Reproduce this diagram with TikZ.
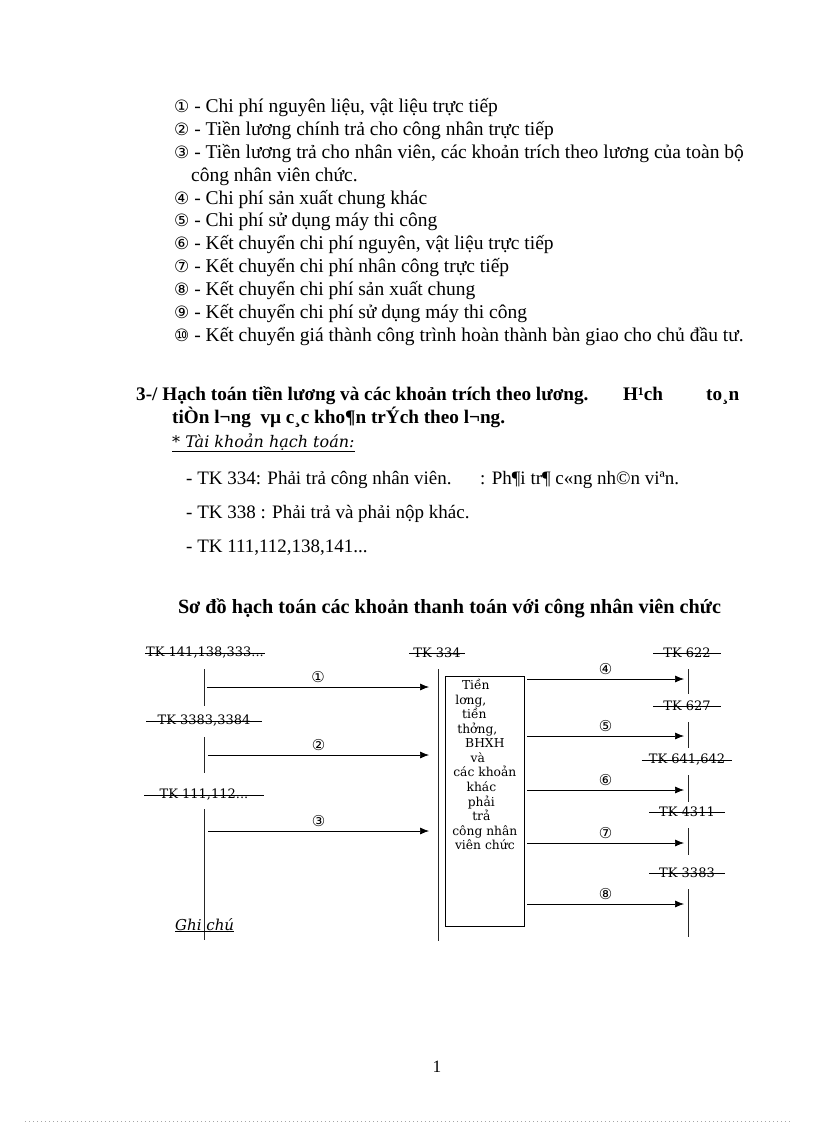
\documentclass[tikz,border=0pt]{standalone}
\usepackage{fontspec}
\setmainfont{Liberation Serif}
\newfontfamily\serifdv{DejaVu Serif}
\newfontfamily\simboli{DejaVu Sans}
\usetikzlibrary{arrows.meta,positioning}

% numeri cerchiati dell'elenco
\newcommand{\cerchiato}[1]{{\simboli\fontsize{17}{20}\selectfont #1}}

\tikzset{
  riga/.style={anchor=base west, inner sep=0pt, font=\fontsize{19.5}{23}\selectfont},
  grassetto/.style={riga, font=\fontsize{19.2}{23}\selectfont\bfseries},
  conto/.style={inner ysep=0pt, font=\serifdv\fontsize{13}{15}\selectfont},
  barra/.style={line width=1pt, black!85},
  freccia/.style={-{Latex[length=9pt,width=7pt]}, line width=0.7pt},
  numero/.style={font=\simboli\fontsize{15}{17}\selectfont, above=4pt, inner sep=0pt},
}

\begin{document}
\begin{tikzpicture}[x=1pt,y=-1pt]
        % Riquadro della pagina
        \useasboundingbox (0,0) rectangle (816,1123);

        % --- Elenco delle voci ---
        \node[riga] (v1) at (174,113) {\cerchiato{①} - Chi phí nguyên liệu, vật liệu trực tiếp};
        \node[riga] (v2) at (174,135.8) {\cerchiato{②} - Tiền lương chính trả cho công nhân trực tiếp};
        \node[riga] (v3) at (174,158.6) {\cerchiato{③} - Tiền lương trả cho nhân viên, các khoản trích theo lương của toàn bộ};
        \node[riga] (v3b) at (191,181.4) {công nhân viên chức.};
        \node[riga] (v4) at (174,204.2) {\cerchiato{④} - Chi phí sản xuất chung khác};
        \node[riga] (v5) at (174,227) {\cerchiato{⑤} - Chi phí sử dụng máy thi công};
        \node[riga] (v6) at (174,249.8) {\cerchiato{⑥} - Kết chuyển chi phí nguyên, vật liệu trực tiếp};
        \node[riga] (v7) at (174,272.6) {\cerchiato{⑦} - Kết chuyển chi phí nhân công trực tiếp};
        \node[riga] (v8) at (174,295.4) {\cerchiato{⑧} - Kết chuyển chi phí sản xuất chung};
        \node[riga] (v9) at (174,318.2) {\cerchiato{⑨} - Kết chuyển chi phí sử dụng máy thi công};
        \node[riga] (v10) at (174,341) {\cerchiato{⑩} - Kết chuyển giá thành công trình hoàn thành bàn giao cho chủ đầu tư.};

        % --- Titolo del paragrafo 3 ---
        \node[grassetto] (par3) at (136,400) {3-/ Hạch toán tiền lương và các khoản trích theo lương.};
        \node[grassetto] (par3a) at (623,400) {H¹ch};
        \node[grassetto] (par3b) at (706,400) {to¸n};
        \node[grassetto] (par3c) at (172,423) {tiÒn l¬ng\ \ vµ c¸c kho¶n trÝch theo l¬ng.};

        % --- Conti utilizzati ---
        \node[anchor=base west, inner sep=0pt, font=\serifdv\itshape\fontsize{16}{19}\selectfont] (tk) at (172,447) {\underline{* Tài khoản hạch toán:}};
        \node[riga, font=\fontsize{19}{23}\selectfont] (tk334) at (186,484) {- TK 334: Phải trả công nhân viên.};
        \node[riga, font=\fontsize{19}{23}\selectfont] (tk334b) at (480,484) {: Ph¶i tr¶ c«ng nh©n viªn.};
        \node[riga, font=\fontsize{19}{23}\selectfont] (tk338) at (186,518) {- TK 338 : Phải trả và phải nộp khác.};
        \node[riga, font=\fontsize{19}{23}\selectfont] (tk111) at (186,552) {- TK 111,112,138,141...};

        % --- Titolo dello schema ---
        \node[grassetto, anchor=base, font=\fontsize{20.2}{24}\selectfont\bfseries] (schema) at (449.5,613) {Sơ đồ hạch toán các khoản thanh toán với công nhân viên chức};

        % --- Conti a sinistra (con la linea che li attraversa) ---
        \node[conto, inner xsep=1pt] (cA) at (205,653) {TK 141,138,333...};
        \draw[line width=0.7pt] (cA.west) -- (cA.east);
        \node[conto, inner xsep=11pt] (cB) at (204,721) {TK 3383,3384};
        \draw[line width=0.7pt] (cB.west) -- (cB.east);
        \node[conto, inner xsep=15pt] (cC) at (204,795) {TK 111,112...};
        \draw[line width=0.7pt] (cC.west) -- (cC.east);

        \coordinate (cA1) at (204,669);
        \coordinate (cA2) at (204,706);
        \coordinate (cB1) at (204,737);
        \coordinate (cB2) at (204,773);
        \coordinate (cC1) at (204,809);
        \coordinate (cC2) at (204,940);
        \draw[barra] (cA1) -- (cA2);
        \draw[barra] (cB1) -- (cB2);
        \draw[barra] (cC1) -- (cC2);

        % --- Conto 334 e riquadro centrale ---
        \node[conto, inner xsep=4pt] (c334) at (437,653) {TK 334};
        \draw[line width=0.7pt] (c334.west) -- (c334.east);
        \coordinate (m1) at (438,669);
        \coordinate (m2) at (438,941);
        \draw[barra] (m1) -- (m2);

        \node[draw, line width=0.7pt, anchor=north west, minimum width=79pt, minimum height=250pt, inner sep=0pt] (riq) at (445,676) {};
        \node[anchor=north, align=center, inner sep=0pt, font=\serifdv\fontsize{12.3}{14.55}\selectfont] (riqtesto) at ([yshift=-3pt]riq.north) {%
            \mbox{Tiền\hspace{18pt}}\\\mbox{lơng,\hspace{28pt}}\\\mbox{tiền\hspace{21pt}}\\\mbox{thởng,\hspace{15pt}}\\BHXH\\\mbox{và\hspace{14pt}}\\%
            các khoản\\\mbox{khác\hspace{7pt}}\\\mbox{phải\hspace{7pt}}\\\mbox{trả\hspace{7pt}}\\công nhân\\viên chức};

        % --- Frecce verso il conto 334 ---
        \coordinate (f1a) at (207,687);
        \coordinate (f1b) at (429,687);
        \coordinate (f2a) at (208,755);
        \coordinate (f2b) at (429,755);
        \coordinate (f3a) at (208,831);
        \coordinate (f3b) at (429,831);
        \draw[freccia] (f1a) -- node[numero] {①} (f1b);
        \draw[freccia] (f2a) -- node[numero] {②} (f2b);
        \draw[freccia] (f3a) -- node[numero] {③} (f3b);

        % --- Conti a destra ---
        \node[conto, inner xsep=10pt] (c622) at (687,653) {TK 622};
        \draw[line width=0.7pt] (c622.west) -- (c622.east);
        \node[conto, inner xsep=10pt] (c627) at (687,706) {TK 627};
        \draw[line width=0.7pt] (c627.west) -- (c627.east);
        \node[conto, inner xsep=7pt] (c641) at (687,760) {TK 641,642};
        \draw[line width=0.7pt] (c641.west) -- (c641.east);
        \node[conto, inner xsep=10pt] (c4311) at (687,812) {TK 4311};
        \draw[line width=0.7pt] (c4311.west) -- (c4311.east);
        \node[conto, inner xsep=10pt] (c3383) at (687,873) {TK 3383};
        \draw[line width=0.7pt] (c3383.west) -- (c3383.east);

        \coordinate (d1a) at (688,669);
        \coordinate (d1b) at (688,694);
        \coordinate (d2a) at (688,722);
        \coordinate (d2b) at (688,748);
        \coordinate (d3a) at (688,775);
        \coordinate (d3b) at (688,802);
        \coordinate (d4a) at (688,828);
        \coordinate (d4b) at (688,855);
        \coordinate (d5a) at (688,889);
        \coordinate (d5b) at (688,937);
        \draw[barra] (d1a) -- (d1b);
        \draw[barra] (d2a) -- (d2b);
        \draw[barra] (d3a) -- (d3b);
        \draw[barra] (d4a) -- (d4b);
        \draw[barra] (d5a) -- (d5b);

        % --- Frecce dal riquadro ai conti di destra ---
        \coordinate (g4a) at (527,679);
        \coordinate (g4b) at (684,679);
        \coordinate (g5a) at (527,736);
        \coordinate (g5b) at (684,736);
        \coordinate (g6a) at (527,790);
        \coordinate (g6b) at (684,790);
        \coordinate (g7a) at (527,843);
        \coordinate (g7b) at (684,843);
        \coordinate (g8a) at (527,904);
        \coordinate (g8b) at (684,904);
        \draw[freccia] (g4a) -- node[numero] {④} (g4b);
        \draw[freccia] (g5a) -- node[numero] {⑤} (g5b);
        \draw[freccia] (g6a) -- node[numero] {⑥} (g6b);
        \draw[freccia] (g7a) -- node[numero] {⑦} (g7b);
        \draw[freccia] (g8a) -- node[numero] {⑧} (g8b);

        % --- Nota e numero di pagina ---
        \node[anchor=base west, inner sep=0pt, font=\serifdv\itshape\fontsize{15}{18}\selectfont] (nota) at (175,930) {\underline{Ghi chú}};
        \node[riga, anchor=base, font=\fontsize{17.3}{21}\selectfont] (pagina) at (437,1072) {1};
        \coordinate (p1) at (25,1121);
        \coordinate (p2) at (790,1121);
        \draw[black!35, line width=0.6pt, dash pattern=on 0.6pt off 3.4pt] (p1) -- (p2);
\end{tikzpicture}
\end{document}
